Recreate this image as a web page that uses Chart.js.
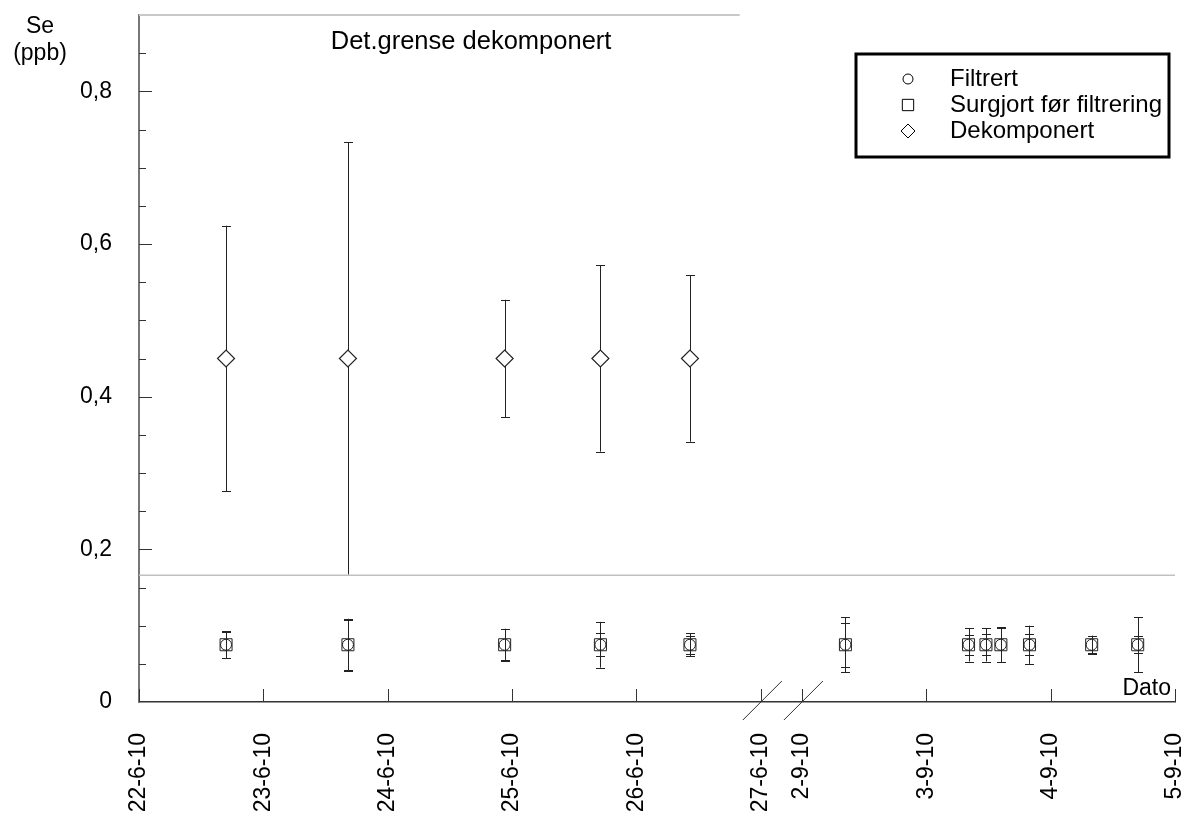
<!DOCTYPE html>
<html>
<head>
<meta charset="utf-8">
<title>Se (ppb)</title>
<script src="https://cdn.jsdelivr.net/npm/chart.js@4.4.1/dist/chart.umd.min.js"></script>
<style>
  html, body { margin: 0; padding: 0; background: #fff; }
  #wrap { width: 1186px; height: 814px; }
</style>
</head>
<body>
<div id="wrap"><canvas id="se-chart" width="1186" height="814"></canvas></div>
<script>
// Sample days (day of month with fraction), June 2010 and September 2010
const junDays = [22.70, 23.68, 24.94, 25.71, 26.43];
const sepDays = [2.35, 3.34, 3.48, 3.60, 3.83, 4.33, 4.70];

// Se (ppb), June samples first then September samples
const filtrert    = [0.075, 0.075, 0.075, 0.075, 0.075, 0.075, 0.075, 0.075, 0.075, 0.075, 0.075, 0.075];
const filtrertErr = [0.018, 0.034, 0.021, 0.030, 0.015, 0.036, 0.022, 0.022, 0.023, 0.025, 0.012, 0.036];
const surgjort    = [0.075, 0.075, 0.075, 0.075, 0.075, 0.075, 0.075, 0.075, 0.075, 0.075, 0.075, 0.075];
const surgjortErr = [0.017, 0.033, 0.020, 0.015, 0.012, 0.029, 0.013, 0.014, 0.022, 0.014, 0.011, 0.011];

// Dekomponert only in June
const dekomponert    = [0.45, 0.45, 0.45, 0.45, 0.45];
const dekomponertErr = [0.174, 0.283, 0.077, 0.122, 0.109];

// detection limits
const detGrenseDekomponert = 0.9;
const detGrenseFiltrert = 0.166;

// axis
const junTicks = ['22-6-10', '23-6-10', '24-6-10', '25-6-10', '26-6-10', '27-6-10'];
const sepTicks = ['2-9-10', '3-9-10', '4-9-10', '5-9-10'];
const yTicks = [0, 0.2, 0.4, 0.6, 0.8];

const breakGap = 0.33; // axis break between 27-6 and 2-9
function junX(d) { return d - 22; }
function sepX(d) { return d - 2 + 5 + breakGap; }

const FONT = '"Liberation Sans", Arial, Helvetica, sans-serif';
const tickValues = junTicks.map((t, i) => i).concat(sepTicks.map((t, i) => sepX(2 + i)));
const tickLabels = junTicks.concat(sepTicks);
const allX = junDays.map(junX).concat(sepDays.map(sepX));

const errMap = { 0: filtrertErr, 1: surgjortErr, 2: dekomponertErr };

////// extras: error bars, inside ticks, break marks, legend, labels /////////
const extras = {
  id: 'extras',
  beforeDatasetsDraw(chart) {
    const ctx = chart.ctx;
    const xs = chart.scales.x, ys = chart.scales.y;
    ctx.save();
    ctx.strokeStyle = '#222';
    ctx.lineWidth = 1;
    [0, 1, 2].forEach(function(di) {
      const ds = chart.data.datasets[di];
      ds.data.forEach(function(p, i) {
        const e = errMap[di][i];
        const px = Math.round(xs.getPixelForValue(p.x)) + 0.5;
        const top = ys.getPixelForValue(p.y + e);
        const bot = ys.getPixelForValue(p.y - e);
        ctx.beginPath();
        ctx.moveTo(px, top); ctx.lineTo(px, bot);
        ctx.moveTo(px - 4.5, Math.round(top) + 0.5); ctx.lineTo(px + 4.5, Math.round(top) + 0.5);
        ctx.moveTo(px - 4.5, Math.round(bot) + 0.5); ctx.lineTo(px + 4.5, Math.round(bot) + 0.5);
        ctx.stroke();
      });
    });
    ctx.restore();
  },
  afterDraw(chart) {
    const ctx = chart.ctx;
    const xs = chart.scales.x, ys = chart.scales.y;
    const area = chart.chartArea;
    ctx.save();

    // inside ticks on x
    ctx.strokeStyle = '#333';
    ctx.lineWidth = 1;
    ctx.beginPath();
    tickValues.forEach(function(v) {
      const px = Math.round(xs.getPixelForValue(v)) + 0.5;
      ctx.moveTo(px, area.bottom); ctx.lineTo(px, area.bottom - 13);
    });
    // inside ticks on y, every 0.05
    for (let i = 1; i <= 17; i++) {
      const py = Math.round(ys.getPixelForValue(i * 0.05)) + 0.5;
      ctx.moveTo(area.left, py); ctx.lineTo(area.left + (i % 4 === 0 ? 13 : 7), py);
    }
    ctx.stroke();

    // axis break marks
    ctx.beginPath();
    [5, sepX(2)].forEach(function(v) {
      const px = xs.getPixelForValue(v);
      ctx.moveTo(px - 18, area.bottom + 18);
      ctx.lineTo(px + 21, area.bottom - 21);
    });
    ctx.stroke();

    // texts
    ctx.fillStyle = '#000';
    ctx.font = '23px ' + FONT;
    ctx.textAlign = 'center';
    ctx.textBaseline = 'middle';
    ctx.fillText('Se', 40, 27);
    ctx.fillText('(ppb)', 40, 54);
    ctx.textAlign = 'right';
    ctx.fillText('Dato', area.right - 4, area.bottom - 13);
    ctx.textAlign = 'center';
    ctx.font = '25.5px ' + FONT;
    ctx.fillText('Det.grense dekomponert', xs.getPixelForValue(2.67), 42);

    // legend box
    ctx.font = '24px ' + FONT;
    ctx.lineWidth = 3;
    ctx.strokeStyle = '#000';
    ctx.strokeRect(856, 54, 313, 103);
    const rows = [
      { label: 'Filtrert', style: 'circle', r: 5 },
      { label: 'Surgjort før filtrering', style: 'rect', r: 8 },
      { label: 'Dekomponert', style: 'rectRot', r: 7 }
    ];
    ctx.textAlign = 'left';
    rows.forEach(function(row, i) {
      const y = 79 + i * 26;
      ctx.lineWidth = 1;
      ctx.strokeStyle = '#000';
      ctx.fillStyle = '#fff';
      Chart.helpers.drawPoint(ctx, { pointStyle: row.style, radius: row.r, rotation: 0, borderWidth: 1 }, 908, y);
      ctx.fillStyle = '#000';
      ctx.fillText(row.label, 950, y);
    });
    ctx.restore();
  }
};

////// Start Se Chart /////////
const ctx_se = document.getElementById('se-chart');
new Chart(ctx_se, {
  type: 'scatter',
  data: {
    datasets: [{
      label: 'Filtrert',
      data: allX.map((x, i) => ({ x: x, y: filtrert[i] })),
      pointStyle: 'circle',
      pointRadius: 5.5,
      borderColor: '#222',
      backgroundColor: 'rgba(0,0,0,0)',
      borderWidth: 1
    }, {
      label: 'Surgjort før filtrering',
      data: allX.map((x, i) => ({ x: x, y: surgjort[i] })),
      pointStyle: 'rect',
      pointRadius: 8.5,
      borderColor: '#222',
      backgroundColor: 'rgba(0,0,0,0)',
      borderWidth: 1
    }, {
      label: 'Dekomponert',
      data: junDays.map((d, i) => ({ x: junX(d), y: dekomponert[i] })),
      pointStyle: 'rectRot',
      pointRadius: 8.5,
      borderColor: '#222',
      backgroundColor: '#fff',
      borderWidth: 1.2
    }, {
      label: 'Det.grense dekomponert',
      data: [{ x: 0, y: detGrenseDekomponert }, { x: 4.83, y: detGrenseDekomponert }],
      showLine: true,
      pointRadius: 0,
      borderColor: '#c8c8c8',
      borderWidth: 2
    }, {
      label: 'Det.grense',
      data: [{ x: 0, y: detGrenseFiltrert }, { x: 8 + breakGap, y: detGrenseFiltrert }],
      showLine: true,
      pointRadius: 0,
      borderColor: '#c0c0c0',
      borderWidth: 1.5
    }]
  },
  options: {
    responsive: false,
    animation: false,
    clip: false,
    layout: { padding: { left: 0, right: 11, top: 15, bottom: 0 } },
    plugins: {
      legend: { display: false },
      tooltip: { enabled: false }
    },
    scales: {
      x: {
        type: 'linear',
        min: 0,
        max: 8 + breakGap,
        afterBuildTicks: function(s) { s.ticks = tickValues.map(v => ({ value: v })); },
        afterFit: function(s) { s.height = 112; s.paddingLeft = 0; s.paddingRight = 0; },
        grid: { display: false, drawTicks: false },
        border: { display: true, color: '#333', width: 1.5 },
        ticks: {
          autoSkip: false,
          minRotation: 90,
          maxRotation: 90,
          padding: 31,
          color: '#000',
          font: { family: FONT, size: 23 },
          callback: function(v, i) { return tickLabels[i]; }
        }
      },
      y: {
        min: 0,
        max: 0.9,
        afterBuildTicks: function(s) { s.ticks = yTicks.map(v => ({ value: v })); },
        afterFit: function(s) { s.width = 139; s.paddingTop = 0; s.paddingBottom = 0; },
        grid: { display: false, drawTicks: false },
        border: { display: true, color: '#777', width: 2 },
        ticks: {
          padding: 27,
          color: '#000',
          font: { family: FONT, size: 23 },
          callback: function(v) { return v === 0 ? '0' : v.toFixed(1).replace('.', ','); }
        }
      }
    }
  },
  plugins: [extras]
});
////// End Se Chart /////////
</script>
</body>
</html>
